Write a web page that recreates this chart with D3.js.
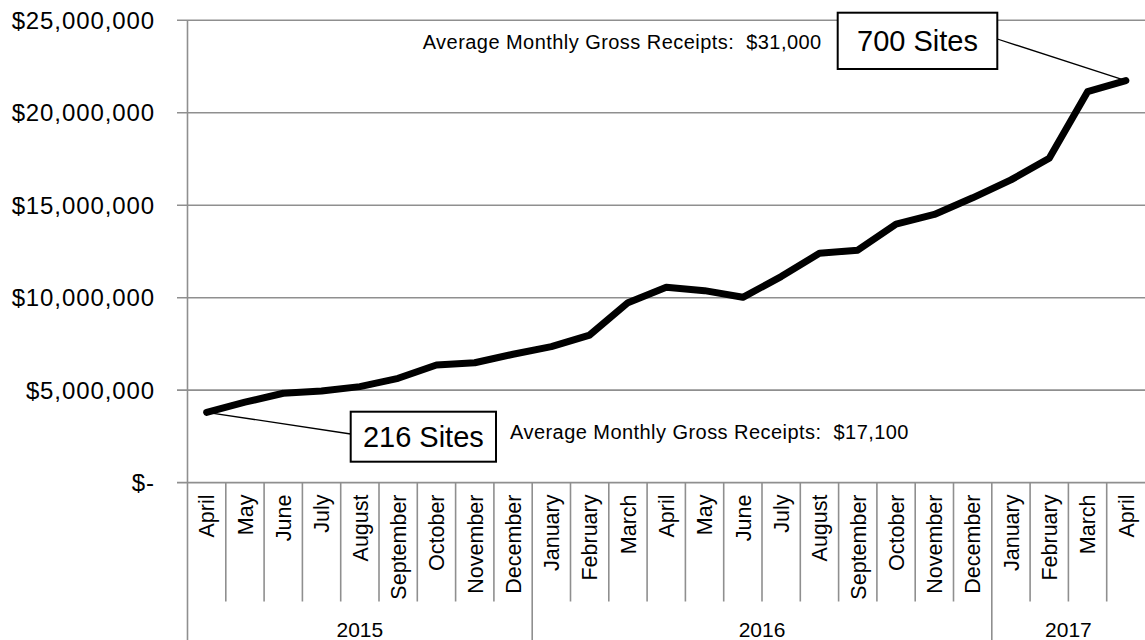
<!DOCTYPE html>
<html>
<head>
<meta charset="utf-8">
<script src="https://cdn.jsdelivr.net/npm/d3@7"></script>
<style>
  html, body { margin: 0; padding: 0; background: #fff; }
  svg { display: block; font-family: "Liberation Sans", Arial, sans-serif; }
  .note { white-space: pre; }
</style>
</head>
<body>
<svg id="chart" width="1145" height="640"></svg>
<script>
// ---- data ----
const months = ["April","May","June","July","August","September","October","November","December",
                "January","February","March","April","May","June","July","August","September","October","November","December",
                "January","February","March","April"];
const years = ["2015","2016","2017"];
const yearSpans = [9, 12, 4]; // number of months in each year group
const receipts = [3800000, 4350000, 4830000, 4950000, 5190000, 5640000, 6360000, 6480000, 6940000,
                  7350000, 7980000, 9730000, 10560000, 10380000, 10020000, 11140000, 12400000, 12570000,
                  13980000, 14500000, 15400000, 16370000, 17540000, 21140000, 21740000];
const yTicks = [0, 5000000, 10000000, 15000000, 20000000, 25000000];
const yTickLabels = ["$-", "$5,000,000", "$10,000,000", "$15,000,000", "$20,000,000", "$25,000,000"];
const startNote = { label: "216 Sites", text: "Average Monthly Gross Receipts:  $17,100" };
const endNote = { label: "700 Sites", text: "Average Monthly Gross Receipts:  $31,000" };

// ---- layout ----
const W = 1145, H = 640;
const pLeft = 187.5, pRight = 1145, pTop = 20.3, pBottom = 482.6;
const svg = d3.select("#chart");

const x = d3.scaleBand().domain(d3.range(months.length)).range([pLeft, pRight]).padding(0);
const y = d3.scaleLinear().domain([0, 25000000]).range([pBottom, pTop]);
const gridColor = "#8f8f8f";

// gridlines + ticks
svg.append("g").selectAll("line").data(yTicks).join("line")
  .attr("x1", pLeft - 10.5).attr("x2", pRight)
  .attr("y1", d => y(d)).attr("y2", d => y(d))
  .attr("stroke", gridColor).attr("stroke-width", 1.6);

// y labels
svg.append("g").selectAll("text").data(yTicks).join("text")
  .attr("x", 155).attr("y", d => y(d)).attr("dy", "0.36em")
  .attr("text-anchor", "end")
  .attr("font-size", 24).attr("letter-spacing", 0.9)
  .attr("fill", "#000")
  .text((d, i) => yTickLabels[i]);

// y axis line (extends down as left year separator)
svg.append("line").attr("x1", pLeft).attr("x2", pLeft).attr("y1", pTop).attr("y2", H)
  .attr("stroke", gridColor).attr("stroke-width", 1.6);

// month separators
const monthSepY = 601.5;
const yearBounds = [];
let acc = 0;
yearSpans.forEach(s => { acc += s; yearBounds.push(acc); });
svg.append("g").selectAll("line").data(d3.range(1, months.length)).join("line")
  .attr("x1", i => x(i)).attr("x2", i => x(i))
  .attr("y1", pBottom).attr("y2", i => yearBounds.includes(i) ? H : monthSepY)
  .attr("stroke", gridColor).attr("stroke-width", 1.6);

// month labels
svg.append("g").selectAll("text").data(months).join("text")
  .attr("transform", (d, i) => `translate(${x(i) + x.bandwidth() / 2},${494.5}) rotate(-90)`)
  .attr("text-anchor", "end").attr("dy", "0.36em")
  .attr("font-size", 21.5).attr("fill", "#000")
  .text(d => d);

// year labels
let startIdx = 0;
years.forEach((yr, k) => {
  const endIdx = startIdx + yearSpans[k];
  const x0 = x(startIdx), x1 = endIdx >= months.length ? pRight : x(endIdx);
  svg.append("text").attr("x", (x0 + x1) / 2).attr("y", 636.5)
    .attr("text-anchor", "middle").attr("font-size", 21).attr("fill", "#000")
    .text(yr);
  startIdx = endIdx;
});

// line
const line = d3.line().x((d, i) => x(i) + x.bandwidth() / 2).y(d => y(d));
svg.append("path").datum(receipts).attr("d", line)
  .attr("fill", "none").attr("stroke", "#000").attr("stroke-width", 7)
  .attr("stroke-linejoin", "round").attr("stroke-linecap", "round");

// annotations
const firstPt = [x(0) + x.bandwidth() / 2, y(receipts[0])];
const lastIdx = receipts.length - 1;
const lastPt = [x(lastIdx) + x.bandwidth() / 2, y(receipts[lastIdx])];

// start box
const sb = { x: 350.7, y: 411.7, w: 145.3, h: 50 };
svg.append("line").attr("x1", firstPt[0]).attr("y1", firstPt[1]).attr("x2", sb.x).attr("y2", 434)
  .attr("stroke", "#000").attr("stroke-width", 1.3);
svg.append("rect").attr("x", sb.x).attr("y", sb.y).attr("width", sb.w).attr("height", sb.h)
  .attr("fill", "#fff").attr("stroke", "#000").attr("stroke-width", 2);
svg.append("text").attr("x", sb.x + sb.w / 2).attr("y", 447).attr("text-anchor", "middle")
  .attr("font-size", 29).attr("fill", "#000").text(startNote.label);
svg.append("text").attr("class", "note").attr("x", 510).attr("y", 438.5)
  .attr("font-size", 20).attr("letter-spacing", 0.45)
  .attr("fill", "#000").text(startNote.text);

// end box
const eb = { x: 837.7, y: 12.7, w: 159.6, h: 56.3 };
svg.append("line").attr("x1", eb.x + eb.w).attr("y1", 39).attr("x2", lastPt[0]).attr("y2", lastPt[1])
  .attr("stroke", "#000").attr("stroke-width", 1.3);
svg.append("rect").attr("x", eb.x).attr("y", eb.y).attr("width", eb.w).attr("height", eb.h)
  .attr("fill", "#fff").attr("stroke", "#000").attr("stroke-width", 2);
svg.append("text").attr("x", eb.x + eb.w / 2).attr("y", 50.5).attr("text-anchor", "middle")
  .attr("font-size", 29).attr("fill", "#000").text(endNote.label);
svg.append("text").attr("class", "note").attr("x", 422.7).attr("y", 48.5)
  .attr("font-size", 20).attr("letter-spacing", 0.45)
  .attr("fill", "#000").text(endNote.text);
</script>
</body>
</html>
